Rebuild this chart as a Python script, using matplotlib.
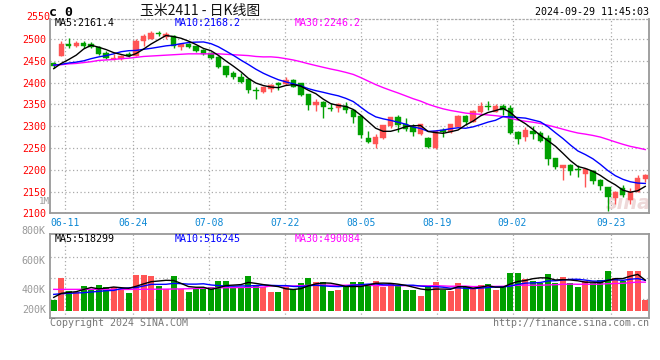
import numpy as np
import pandas as pd
import matplotlib
matplotlib.use("Agg")
import matplotlib.pyplot as plt

# ---------------- data ----------------
opens = [2444, 2462, 2489, 2483, 2491, 2488, 2482, 2468, 2454, 2454,
         2466, 2462, 2495, 2501, 2515, 2505, 2506, 2481, 2489, 2483,
         2474, 2468, 2458, 2437, 2422, 2414, 2408, 2384, 2378, 2386,
         2399, 2396, 2406, 2398, 2373, 2348, 2356, 2342, 2342, 2347,
         2337, 2324, 2272, 2258, 2272, 2300, 2321, 2304, 2299, 2283,
         2273, 2249, 2291, 2286, 2299, 2324, 2310, 2333, 2346, 2333,
         2346, 2341, 2286, 2275, 2290, 2285, 2273, 2226, 2205, 2212,
         2201, 2191, 2197, 2176, 2160, 2135, 2157, 2131, 2150, 2178]
highs = [2447, 2496, 2502, 2496, 2496, 2494, 2485, 2472, 2466, 2463,
         2471, 2499, 2512, 2519, 2519, 2517, 2510, 2491, 2491, 2485,
         2476, 2470, 2460, 2439, 2427, 2422, 2409, 2389, 2390, 2396,
         2402, 2414, 2408, 2400, 2374, 2363, 2357, 2354, 2354, 2355,
         2339, 2326, 2290, 2283, 2303, 2322, 2325, 2318, 2304, 2305,
         2274, 2291, 2296, 2305, 2325, 2326, 2337, 2355, 2357, 2350,
         2350, 2348, 2289, 2298, 2300, 2288, 2279, 2228, 2212, 2214,
         2210, 2204, 2199, 2178, 2161, 2151, 2165, 2157, 2187, 2191]
lows = [2434, 2461, 2479, 2481, 2479, 2480, 2464, 2454, 2452, 2453,
        2459, 2461, 2483, 2500, 2508, 2501, 2479, 2474, 2480, 2470,
        2464, 2455, 2433, 2414, 2409, 2399, 2375, 2363, 2377, 2378,
        2384, 2394, 2389, 2369, 2337, 2334, 2318, 2334, 2333, 2331,
        2308, 2273, 2262, 2251, 2270, 2295, 2287, 2289, 2277, 2279,
        2251, 2248, 2276, 2285, 2298, 2302, 2309, 2331, 2336, 2332,
        2325, 2281, 2260, 2266, 2271, 2263, 2212, 2201, 2176, 2189,
        2183, 2160, 2168, 2154, 2105, 2121, 2138, 2122, 2148, 2171]
closes = [2439, 2489, 2483, 2492, 2483, 2482, 2466, 2456, 2457, 2462,
          2462, 2496, 2508, 2515, 2511, 2511, 2483, 2489, 2482, 2472,
          2466, 2457, 2435, 2418, 2412, 2402, 2382, 2381, 2389, 2395,
          2395, 2407, 2391, 2371, 2348, 2356, 2344, 2339, 2351, 2337,
          2321, 2279, 2264, 2275, 2302, 2321, 2302, 2294, 2286, 2304,
          2253, 2289, 2286, 2304, 2324, 2310, 2334, 2346, 2343, 2346,
          2336, 2285, 2270, 2291, 2281, 2267, 2224, 2207, 2210, 2197,
          2199, 2202, 2174, 2163, 2138, 2150, 2141, 2150, 2180, 2188]
# volume in thousands
volumes_k = [183, 559, 337, 313, 422, 354, 439, 405, 405, 364,
             303, 610, 610, 593, 422, 364, 593, 364, 320, 364,
             364, 405, 508, 508, 405, 405, 593, 422, 405, 320,
             320, 405, 364, 474, 559, 491, 491, 337, 354, 398,
             491, 491, 457, 508, 410, 474, 422, 354, 354, 251,
             398, 491, 354, 337, 474, 398, 364, 439, 457, 354,
             398, 645, 645, 542, 508, 474, 628, 474, 576, 474,
             405, 508, 474, 525, 679, 559, 508, 679, 679, 183]

# moving-average values at the left edge (history before the window)
ma5_head = [2432, 2444, 2453, 2463]
ma10_head = [2440, 2442, 2445, 2447, 2450, 2455, 2459, 2462, 2466]
ma30_head = [2440, 2441, 2443, 2444, 2446, 2448, 2451, 2452, 2453, 2455,
             2456, 2458, 2460, 2461, 2462, 2463, 2464, 2465, 2466, 2466,
             2466, 2466, 2466, 2465, 2464, 2463, 2462, 2460, 2459]
vma5_head = [228, 296, 313, 325]
vma10_head = [279, 291, 296, 303, 308, 320, 330, 342, 347]
vma30_head = [365, 365, 365, 365, 365, 365, 365, 365, 364, 364,
              364, 365, 366, 367, 368, 369, 371, 373, 376, 380,
              384, 388, 391, 393, 395, 397, 399, 401, 404]

date_tick_days = [2, 11, 21, 31, 41, 51, 61, 74]   # day slot of each date label (79-slot grid)
date_tick_labels = ["06-11", "06-24", "07-08", "07-22", "08-05", "08-19", "09-02", "09-23"]
price_ticks = [2100, 2150, 2200, 2250, 2300, 2350, 2400, 2450, 2500]
vol_labels = ["800K", "600K", "400K", "200K"]

title_text = "玉米2411 - 日K线图"
stamp_text = "2024-09-29 11:45:03"
ma_price_text = ["MA5:2161.4", "MA10:2168.2", "MA30:2246.2"]
ma_vol_text = ["MA5:518299", "MA10:516245", "MA30:490084"]

# ---------------- derived ----------------
o = np.array(opens, float); h = np.array(highs, float)
l = np.array(lows, float); c = np.array(closes, float)
v = np.array(volumes_k, float)
n = len(c)
x = np.arange(n)

def ma(series, w, head):
    s = pd.Series(series).rolling(w).mean().to_numpy()
    s[:len(head)] = head
    return s

ma5 = ma(c, 5, ma5_head); ma10 = ma(c, 10, ma10_head); ma30 = ma(c, 30, ma30_head)
vma5 = ma(v, 5, vma5_head); vma10 = ma(v, 10, vma10_head); vma30 = ma(v, 30, vma30_head)

RED = "#ff5555"; GREEN = "#00a000"
up = c >= o
cols = np.where(up, RED, GREEN)

W, H = 660, 360
fig = plt.figure(figsize=(W / 100, H / 100), dpi=100)
fig.patch.set_facecolor("white")
MONO = "DejaVu Sans Mono"
FS = 7.2

def fx(px): return px / W
def fy(py): return 1 - py / H

L0, R0 = 50, 649
ax = fig.add_axes([fx(L0), fy(213.3), (R0 - L0) / W, (213.3 - 19) / H])
axv = fig.add_axes([fx(L0), fy(318.3), (R0 - L0) / W, (318.3 - 234.3) / H])

xlim = (-0.5, n - 0.5)
grid_pos = [d * n / (n - 1) - 0.5 for d in date_tick_days]
GRID = dict(color="#aaaaaa", linestyle=(0, (1, 2)), linewidth=0.9)

# ---- price panel ----
ax.set_xlim(*xlim)
ax.set_ylim(2100, 2546)
for yv in price_ticks[1:]:
    ax.axhline(yv, zorder=0, **GRID)
for gp in grid_pos:
    ax.axvline(gp, zorder=0, **GRID)
ax.vlines(x, l, h, colors=cols, linewidth=1.0, zorder=2)
body_lo = np.minimum(o, c)
body_h = np.maximum(np.abs(c - o), 1.2)
ax.bar(x, body_h, bottom=body_lo, width=0.72, color=cols, edgecolor=cols, linewidth=0.3, zorder=3)
ax.plot(x, ma30, color="#ff00ff", lw=1.0, zorder=4)
ax.plot(x, ma10, color="#0000ff", lw=1.0, zorder=4)
ax.plot(x, ma5, color="#000000", lw=1.0, zorder=5)

ax.set_yticks(price_ticks)
ax.set_yticklabels([str(t) for t in price_ticks], color="#ff0000", fontsize=FS, family=MONO)
ax.text(-0.5, 2550, "2550", transform=ax.transData, ha="right", va="center", color="#ff0000",
        fontsize=FS, family=MONO, clip_on=False)
ax.yaxis.set_tick_params(length=0, pad=3.0)
ax.set_xticks(grid_pos)
ax.set_xticklabels(date_tick_labels, color="#0b87d4", fontsize=7.0, family=MONO)
ax.xaxis.set_tick_params(length=0, pad=3.4)
for side in ["left", "bottom", "right"]:
    ax.spines[side].set_color("#999999"); ax.spines[side].set_linewidth(1.3)
ax.spines["top"].set_color("#aaaaaa"); ax.spines["top"].set_linestyle((0, (1, 2)))
ax.spines["top"].set_linewidth(0.9)
ax.text(-0.5, 2126, "1M", transform=ax.transData, ha="right", va="center", color="#999999",
        fontsize=6.6, family=MONO, clip_on=False)
ax.text(76.8, 2122, "sina", ha="center", va="center", color="#e8c9c9", fontsize=14,
        style="italic", fontweight="bold", alpha=0.7, zorder=1)

# ---- volume panel ----
axv.set_xlim(*xlim)
scale = 17.1
vmin, vmax = -7.6 * scale, 76.4 * scale
axv.set_ylim(vmin, vmax)
for f in (0.25, 0.5, 0.75):
    axv.axhline(vmin + f * (vmax - vmin) - 0.02 * (vmax - vmin), zorder=0, **GRID)
for gp in grid_pos:
    axv.axvline(gp, zorder=0, **GRID)
axv.bar(x, v, width=0.8, color=cols, zorder=2)
axv.plot(x, vma30, color="#ff00ff", lw=1.0, zorder=3)
axv.plot(x, vma10, color="#0000ff", lw=1.0, zorder=3)
axv.plot(x, vma5, color="#000000", lw=1.0, zorder=4)
axv.set_xticks([]); axv.set_yticks([])
for side in axv.spines:
    axv.spines[side].set_color("#999999"); axv.spines[side].set_linewidth(1.3)
for lab, fyv in zip(vol_labels, [1.043, 0.686, 0.336, 0.099]):
    axv.text(-0.007, fyv, lab, transform=axv.transAxes, ha="right", va="center",
             color="#999999", fontsize=FS, family=MONO, clip_on=False)

# ---- header / footer texts ----
fig.text(fx(49), fy(12), "c 0", ha="left", va="center", fontsize=9.5, family=MONO, fontweight="bold")
fig.text(fx(140), fy(10.5), title_text, ha="left", va="center", fontsize=10,
         family=["Noto Sans CJK SC", "DejaVu Sans"], color="#111111")
fig.text(fx(649), fy(12), stamp_text, ha="right", va="center", fontsize=FS, family=MONO)
ma_cols = ["#000000", "#0000ff", "#ff00ff"]
for txt, col, px in zip(ma_price_text, ma_cols, [54.5, 174.5, 295]):
    fig.text(fx(px), fy(23.5), txt, ha="left", va="center", fontsize=FS, family=MONO, color=col)
for txt, col, px in zip(ma_vol_text, ma_cols, [54.5, 174.5, 295]):
    fig.text(fx(px), fy(238.5), txt, ha="left", va="center", fontsize=FS, family=MONO, color=col)
fig.text(fx(50), fy(323.5), "Copyright 2024 SINA.COM", ha="left", va="center",
         fontsize=FS, family=MONO, color="#777777")
fig.text(fx(649), fy(323.5), "http://finance.sina.com.cn", ha="right", va="center",
         fontsize=FS, family=MONO, color="#777777")

fig.savefig("out.png", dpi=100, facecolor="white")
